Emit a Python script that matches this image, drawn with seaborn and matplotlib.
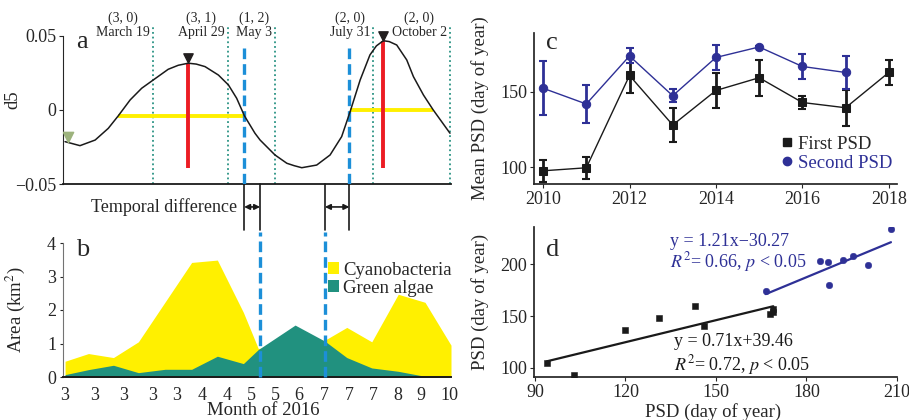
import numpy as np
import matplotlib.pyplot as plt
import seaborn as sns
from matplotlib.lines import Line2D

# ---- panel a: d5 curve (x in sample units 0-15)
curve_x = [0.0, 0.58, 1.17, 1.68, 2.07, 2.53, 2.98, 3.43, 4.01, 4.40, 4.79, 5.10, 5.44,
           5.96, 6.35, 6.67, 6.97, 7.38, 7.58, 8.16, 8.62, 8.90, 9.20, 9.78, 10.30, 10.75,
           11.08, 11.47, 11.85, 12.10, 12.37, 12.60, 12.89, 13.28, 13.54, 13.93, 14.31, 14.96]
curve_d5 = [-0.0214, -0.0241, -0.0203, -0.0124, -0.0039, 0.0068, 0.0147, 0.0203, 0.0275,
            0.0302, 0.0316, 0.0310, 0.0293, 0.0236, 0.0169, 0.0079, -0.0039, -0.0157,
            -0.0203, -0.0304, -0.0360, -0.0376, -0.0390, -0.0372, -0.0304, -0.0180,
            -0.0011, 0.0203, 0.0372, 0.0433, 0.0468, 0.0462, 0.0439, 0.0338, 0.0225,
            0.0101, 0.0, -0.0157]
peak_x = [4.79, 12.37]
peak_d5 = [0.0316, 0.0468]
red_bottom = -0.0394
half_start = [2.07, 11.08]
half_end = [6.97, 14.31]
half_level = [-0.0039, 0.0]
seg_bounds = [3.43, 6.32, 8.16, 11.98, 14.96]
seg_codes = ['(3, 0)', '(3, 1)', '(1, 2)', '(2, 0)', '(2, 0)']
seg_dates = ['March 19', 'April 29', 'May 3', 'July 31', 'October 2']
psd_a = [6.96, 11.05]   # PSD from d5
psd_b = [7.58, 10.10]   # PSD from algae area

# ---- panel b: bloom areas (km2)
sample_x = [0.0, 0.91, 1.88, 2.85, 3.89, 4.92, 5.92, 6.93, 7.51, 8.94, 10.10, 10.95,
            11.92, 12.95, 13.99, 15.0]
cyano_area = [0.47, 0.70, 0.58, 1.05, 2.24, 3.42, 3.49, 1.93, 0.85, 1.0, 1.1, 1.48,
              1.05, 2.47, 2.23, 0.95]
green_area = [0.07, 0.22, 0.35, 0.13, 0.23, 0.23, 0.62, 0.40, 0.82, 1.55, 1.07, 0.58,
              0.27, 0.17, 0.02, 0.0]
month_pos = [0, 1.14, 2.27, 3.39, 4.34, 5.31, 6.28, 7.26, 8.19, 9.07, 10.07, 11.04,
             11.98, 12.93, 13.84, 14.92]
month_labels = ['3', '3', '3', '3', '3', '4', '4', '5', '5', '6', '7', '7', '7', '8', '9', '10']

# ---- panel c: mean PSD per year
years = [2010, 2011, 2012, 2013, 2014, 2015, 2016, 2017, 2018]
first_mean = [97.5, 99.5, 161, 128, 151, 159.5, 143, 139.5, 163]
first_err = [7.5, 7.5, 11.5, 11.5, 11.5, 12, 4.5, 12, 8.5]
second_years = [2010, 2011, 2012, 2013, 2014, 2015, 2016, 2017]
second_mean = [152.5, 142, 174, 147.5, 173, 180, 167, 163]
second_err = [18, 12.5, 5, 4.5, 8.5, 0.5, 8.5, 11]

# ---- panel d: PSD scatter + fits
first_x = [94, 103, 120, 131, 143, 146, 168, 169, 169]
first_y = [105, 92.5, 136, 148.5, 159.5, 140, 151.5, 157, 154]
second_x = [166.5, 184.5, 187, 187.5, 192, 195.5, 200.5, 208]
second_y = [174, 203.5, 202, 180, 204, 208, 199, 234]
fit_first = (0.71, 39.46)
fit_second = (1.21, -30.27)

sns.set_theme(style='ticks')
plt.rcParams['font.family'] = ['Liberation Serif', 'DejaVu Serif']
plt.rcParams['mathtext.fontset'] = 'stix'

BLUE = '#2e3096'
DASH_BLUE = '#1c8fd8'
TEAL = '#21917f'
YELLOW = '#fff000'
FS = 13
LFS = 13.5

fig = plt.figure(figsize=(9.09, 4.2), dpi=100)
W, H = 909, 420


def add_ax(left, right, top, bottom):
    return fig.add_axes([left / W, 1 - bottom / H, (right - left) / W, (bottom - top) / H])


ax_a = add_ax(63, 451, 25.6, 184)
ax_b = add_ax(63, 451, 243, 377)
ax_c = add_ax(534, 897, 33, 184)
ax_d = add_ax(534, 897, 226.7, 377)

# ---------------- a
for b in seg_bounds:
    ax_a.axvline(b, color='#2a9384', ls=(0, (1, 1.6)), lw=1.3, zorder=1)
ax_a.hlines(half_level, half_start, half_end, color=YELLOW, lw=2.8, zorder=2)
ax_a.vlines(peak_x, red_bottom, peak_d5, color='#ec1c24', lw=2.8, zorder=3)
ax_a.vlines(psd_a, -0.05, 0.044, color=DASH_BLUE, lw=2.4, linestyles=(0, (3.2, 1.5)), zorder=3)
sns.lineplot(x=curve_x, y=curve_d5, ax=ax_a, color='k', lw=1.1, sort=False, zorder=4)
ax_a.scatter(peak_x, [p + 0.0032 for p in peak_d5], marker='v', color='#231f20', s=45, zorder=5)
ax_a.scatter([0.1], [-0.0182], marker='v', color='#9db37d', s=55, zorder=5)

for b, code, date in zip(seg_bounds, seg_codes, seg_dates):
    ax_a.text(b - 0.12, 0.0574, code + '\n' + date, ha='right', va='center',
              multialignment='center', fontsize=10, linespacing=1.15)

# temporal difference connectors
for xa, xb in [(psd_a[0], psd_b[0]), (psd_b[1], psd_a[1])]:
    for xx in (xa, xb):
        ax_a.plot([xx, xx], [-0.05, -0.081], color='k', lw=1.2, clip_on=False)
    ax_a.annotate('', xy=(xb, -0.0655), xytext=(xa, -0.0655),
                  arrowprops=dict(arrowstyle='<|-|>', color='k', lw=1.2, shrinkA=0,
                                  shrinkB=0, mutation_scale=8),
                  annotation_clip=False)
ax_a.text(6.68, -0.0655, 'Temporal difference', ha='right', va='center', fontsize=FS)

ax_a.set_xlim(-0.08, 15.0)
ax_a.set_ylim(-0.05, 0.057)
ax_a.set_xticks([])
ax_a.set_yticks([-0.05, 0, 0.05])
ax_a.set_yticklabels(['\u22120.05', '0', '0.05'])
ax_a.spines[['top', 'right']].set_visible(False)
ax_a.spines['left'].set_bounds(-0.05, 0.05)
ax_a.spines['left'].set_linewidth(0.8)
ax_a.spines['bottom'].set_linewidth(1.3)
ax_a.spines['bottom'].set_color('k')
ax_a.tick_params(axis='y', labelsize=FS, length=3, width=0.8, pad=2)
ax_a.set_ylabel('d5', fontsize=LFS)
ax_a.yaxis.set_label_coords(-0.106, 0.53)
ax_a.text(0.049, 0.896, 'a', transform=ax_a.transAxes, fontsize=19, ha='center', va='center')

# ---------------- b
ax_b.fill_between(sample_x, cyano_area, color=YELLOW, lw=0, label='Cyanobacteria')
ax_b.fill_between(sample_x, green_area, color=TEAL, lw=0, label='Green algae')
ax_b.vlines(psd_b, 0, 4.33, color=DASH_BLUE, lw=2.4, linestyles=(0, (3.2, 1.5)),
            clip_on=False, zorder=3)
ax_b.set_xlim(-0.08, 15.0)
ax_b.set_ylim(0, 4)
ax_b.set_xticks(month_pos)
ax_b.set_xticklabels(month_labels)
ax_b.set_yticks([0, 1, 2, 3, 4])
ax_b.tick_params(axis='x', labelsize=FS, length=0, pad=7)
ax_b.tick_params(axis='y', labelsize=FS, length=2, width=0.8, pad=3)
ax_b.spines[['top', 'right']].set_visible(False)
ax_b.spines['left'].set_color('0.45')
ax_b.spines['left'].set_linewidth(0.8)
ax_b.spines['bottom'].set_color('k')
ax_b.spines['bottom'].set_linewidth(1.4)
ax_b.set_ylabel('Area (km$^2$)', fontsize=LFS)
ax_b.yaxis.set_label_coords(-0.093, 0.5)
ax_b.set_xlabel('Month of 2016', fontsize=LFS)
ax_b.xaxis.set_label_coords(0.515, -0.19)
ax_b.legend(loc='upper left', bbox_to_anchor=(0.66, 0.93), frameon=False, fontsize=LFS,
            handlelength=0.55, handleheight=0.55, handletextpad=0.25, labelspacing=0.05,
            borderpad=0)
ax_b.text(0.05, 0.95, 'b', transform=ax_b.transAxes, fontsize=19, ha='center', va='center')

# ---------------- c
sns.lineplot(x=years, y=first_mean, ax=ax_c, color='k', lw=1, marker='s', ms=6,
             mec='k', zorder=3)
ax_c.errorbar(years, first_mean, yerr=first_err, fmt='none', ecolor='k', elinewidth=2,
              capsize=3, capthick=1.5, zorder=3)
sns.lineplot(x=second_years, y=second_mean, ax=ax_c, color=BLUE, lw=1, marker='o', ms=6,
             mec=BLUE, zorder=4)
ax_c.errorbar(second_years, second_mean, yerr=second_err, fmt='none', ecolor=BLUE,
              elinewidth=2, capsize=3, capthick=1.5, zorder=4)
handles = [Line2D([], [], ls='', marker='s', color='k', ms=6),
           Line2D([], [], ls='', marker='o', color=BLUE, ms=6)]
leg = ax_c.legend(handles, ['First PSD', 'Second PSD'], loc='lower left',
                  bbox_to_anchor=(0.655, 0.02), frameon=False, fontsize=LFS,
                  handlelength=0.6, handletextpad=0.3, labelspacing=0.1, borderpad=0)
leg.get_texts()[1].set_color(BLUE)
ax_c.set_xlim(2009.79, 2018.19)
ax_c.set_ylim(88.7, 189.3)
ax_c.set_xticks([2010, 2012, 2014, 2016, 2018])
ax_c.set_yticks([100, 150])
ax_c.tick_params(labelsize=FS, length=3, width=0.8, pad=2)
ax_c.spines[['top', 'right']].set_visible(False)
ax_c.set_ylabel('Mean PSD (day of year)', fontsize=LFS)
ax_c.yaxis.set_label_coords(-0.124, 0.5)
ax_c.text(0.05, 0.934, 'c', transform=ax_c.transAxes, fontsize=19, ha='center', va='center')

# ---------------- d
sns.scatterplot(x=first_x, y=first_y, ax=ax_d, marker='s', color='k', s=24,
                edgecolor='k', zorder=3)
sns.scatterplot(x=second_x, y=second_y, ax=ax_d, marker='o', color=BLUE, s=22,
                edgecolor=BLUE, zorder=3)
for xs, (k, c0), col in [(first_x, fit_first, 'k'), (second_x, fit_second, BLUE)]:
    xx = np.array([min(xs), max(xs)])
    ax_d.plot(xx, k * xx + c0, color=col, lw=1.6)
ax_d.text(134.8, 221.8, 'y = 1.21x\u221230.27', color=BLUE, fontsize=FS, va='center')
ax_d.text(134.8, 202.5, r'$R^2$= 0.66, $p$ < 0.05', color=BLUE, fontsize=FS, va='center')
ax_d.text(136.0, 125.1, 'y = 0.71x+39.46', color='k', fontsize=FS, va='center')
ax_d.text(136.0, 102.6, r'$R^2$= 0.72, $p$ < 0.05', color='k', fontsize=FS, va='center')
ax_d.set_xlim(89.7, 210)
ax_d.set_ylim(91, 236.4)
ax_d.set_xticks([90, 120, 150, 180, 210])
ax_d.set_yticks([100, 150, 200])
ax_d.tick_params(labelsize=FS, length=3, width=0.8, pad=2)
ax_d.spines[['top', 'right']].set_visible(False)
ax_d.set_ylabel('PSD (day of year)', fontsize=LFS)
ax_d.yaxis.set_label_coords(-0.124, 0.5)
ax_d.set_xlabel('PSD (day of year)', fontsize=LFS)
ax_d.xaxis.set_label_coords(0.493, -0.175)
ax_d.text(0.05, 0.845, 'd', transform=ax_d.transAxes, fontsize=19, ha='center', va='center')

fig.savefig('out.png', dpi=100)
